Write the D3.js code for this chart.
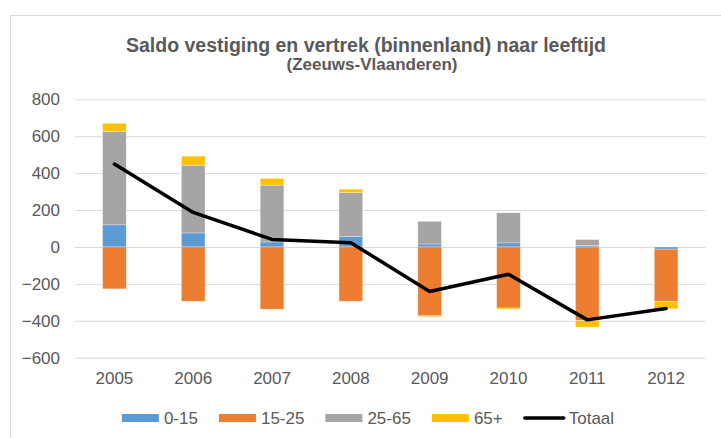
<!DOCTYPE html>
<html>
<head>
<meta charset="utf-8">
<script src="https://cdn.jsdelivr.net/npm/d3@7"></script>
<style>
  body { margin: 0; background: #fff; }
  text { font-family: "Liberation Sans", Arial, sans-serif; fill: #595959; }
</style>
</head>
<body>
<div id="chart"></div>
<script>
// data
const years = ["2005", "2006", "2007", "2008", "2009", "2010", "2011", "2012"]
const seriesNames = ["0-15", "15-25", "25-65", "65+"]
const age0_15 = [120, 76, 27, 56, 16, 22, 7, -12]
const age15_25 = [-227, -294, -337, -294, -373, -331, -398, -284]
const age25_65 = [505, 367, 308, 238, 123, 163, 33, 0]
const age65plus = [45, 49, 36, 19, -5, -6, -36, -39]
const totaal = [449, 187, 41, 23, -241, -148, -395, -334]
const yTicks = [800, 600, 400, 200, 0, -200, -400, -600]
const colors = ["#5B9BD5", "#ED7D31", "#A5A5A5", "#FFC000"]

const width = 721, height = 438

let svg = d3.select("#chart")
  .append("svg")
  .attr("width", width)
  .attr("height", height)

// chart frame
svg.append("rect")
  .attr("x", 10.5)
  .attr("y", 15.5)
  .attr("width", 730)
  .attr("height", 440)
  .attr("fill", "#fff")
  .attr("stroke", "#d9d9d9")

svg.append("text")
  .attr("x", 366)
  .attr("y", 52)
  .attr("text-anchor", "middle")
  .attr("font-size", "19.5px")
  .attr("font-weight", "bold")
  .text("Saldo vestiging en vertrek (binnenland) naar leeftijd")

svg.append("text")
  .attr("x", 372)
  .attr("y", 70)
  .attr("text-anchor", "middle")
  .attr("font-size", "17px")
  .attr("font-weight", "bold")
  .text("(Zeeuws-Vlaanderen)")

let x = d3.scaleBand()
  .domain(years)
  .range([75, 705.5])
  .paddingInner(0.7)
  .paddingOuter(0.35)

let y = d3.scaleLinear()
  .domain([-600, 800])
  .range([357.7, 99.3])

// gridlines + y labels
svg.append("g")
  .attr("transform", "translate(75,0)")
  .call(d3.axisLeft(y).tickValues(yTicks).tickSize(-630.5).tickPadding(15))
  .call(g => g.select(".domain").remove())
  .call(g => g.selectAll(".tick line").attr("stroke", "#d9d9d9"))
  .call(g => g.selectAll(".tick text")
    .attr("font-size", "17px")
    .attr("fill", "#595959")
    .attr("font-family", "Liberation Sans, Arial, sans-serif"))

// x labels
svg.append("g")
  .attr("transform", "translate(0,366)")
  .call(d3.axisBottom(x).tickSize(0).tickPadding(6))
  .call(g => g.select(".domain").remove())
  .call(g => g.selectAll(".tick text")
    .attr("font-size", "17px")
    .attr("fill", "#595959")
    .attr("font-family", "Liberation Sans, Arial, sans-serif"))

let rows = years.map((yr, i) => ({
  year: yr,
  "0-15": age0_15[i],
  "15-25": age15_25[i],
  "25-65": age25_65[i],
  "65+": age65plus[i]
}))

let stacked = d3.stack()
  .keys(seriesNames)
  .offset(d3.stackOffsetDiverging)(rows)

svg.append("g")
  .selectAll("g")
  .data(stacked)
  .join("g")
    .attr("fill", (d, i) => colors[i])
  .selectAll("rect")
  .data(d => d)
  .join("rect")
    .attr("x", d => x(d.data.year))
    .attr("width", x.bandwidth())
    .attr("y", d => y(Math.max(d[0], d[1])))
    .attr("height", d => Math.abs(y(d[0]) - y(d[1])))
    .attr("stroke", "#fff")
    .attr("stroke-opacity", 0.5)
    .attr("stroke-width", 0.6)

let totLine = d3.line()
  .x((d, i) => x(years[i]) + x.bandwidth() / 2)
  .y(d => y(d))

svg.append("path")
  .datum(totaal)
  .attr("d", totLine)
  .attr("fill", "none")
  .attr("stroke", "#000")
  .attr("stroke-width", 3.5)
  .attr("stroke-linejoin", "round")
  .attr("stroke-linecap", "round")

// legend
let legendItems = seriesNames.map((n, i) => ({ name: n, color: colors[i], type: "bar" }))
legendItems.push({ name: "Totaal", color: "#000", type: "line" })

let legend = svg.append("g")
let cursor = 0
legendItems.forEach(item => {
  let g = legend.append("g").attr("transform", `translate(${cursor},0)`)
  if (item.type === "bar") {
    g.append("rect")
      .attr("x", 0).attr("y", -4)
      .attr("width", 37).attr("height", 8)
      .attr("fill", item.color)
  } else {
    g.append("line")
      .attr("x1", 1).attr("x2", 40)
      .attr("y1", 0).attr("y2", 0)
      .attr("stroke", item.color)
      .attr("stroke-width", 3.5)
      .attr("stroke-linecap", "round")
  }
  let t = g.append("text")
    .attr("x", item.type === "bar" ? 42 : 45)
    .attr("y", 6)
    .attr("font-size", "17px")
    .text(item.name)
  cursor += (item.type === "bar" ? 42 : 45) + t.node().getComputedTextLength() + 21
})
let legendWidth = cursor - 21
legend.attr("transform", `translate(${368 - legendWidth / 2},418)`)
</script>
</body>
</html>
